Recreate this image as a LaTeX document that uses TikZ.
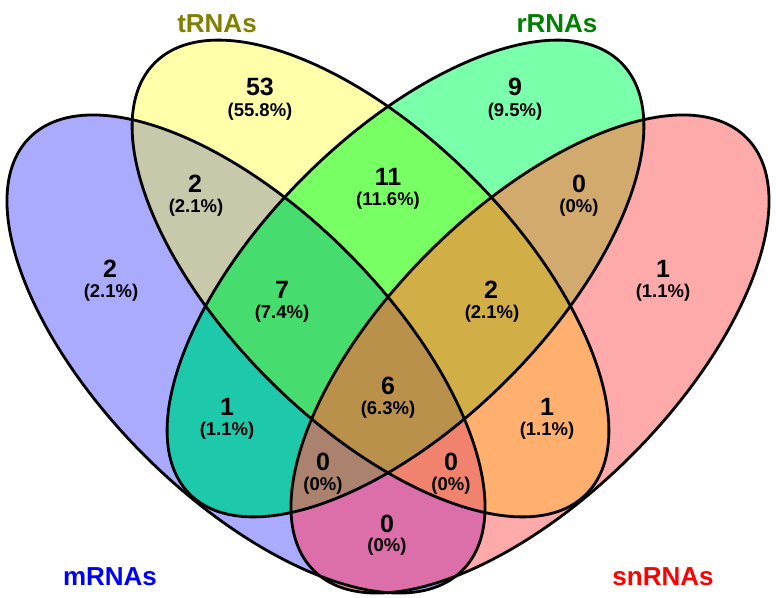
\documentclass[tikz,border=0pt]{standalone}
\usepackage{fontspec}
\setmainfont{Liberation Sans}
\definecolor{cM}{RGB}{170,170,255}
\definecolor{cT}{RGB}{255,255,170}
\definecolor{cR}{RGB}{122,255,170}
\definecolor{cS}{RGB}{255,170,170}
\definecolor{cMT}{RGB}{200,200,170}
\definecolor{cTR}{RGB}{120,255,100}
\definecolor{cRS}{RGB}{210,170,110}
\definecolor{cMR}{RGB}{30,200,170}
\definecolor{cTS}{RGB}{255,175,110}
\definecolor{cMS}{RGB}{220,110,170}
\definecolor{cMTR}{RGB}{70,220,110}
\definecolor{cTRS}{RGB}{210,175,70}
\definecolor{cMRS}{RGB}{170,130,110}
\definecolor{cMTS}{RGB}{240,130,110}
\definecolor{cMTRS}{RGB}{185,145,75}
\definecolor{lblT}{RGB}{128,128,0}
\definecolor{lblR}{RGB}{0,128,0}
\definecolor{lblM}{RGB}{0,0,255}
\definecolor{lblS}{RGB}{255,0,0}
\def\pM{(246,354) ellipse [x radius=306pt, y radius=143.5pt]}
\def\pT{(370.5,278.5) ellipse [x radius=305pt, y radius=143.5pt]}
\def\pR{(405.5,278.5) ellipse [x radius=305pt, y radius=143.5pt]}
\def\pS{(530,354) ellipse [x radius=306pt, y radius=143.5pt]}
\tikzset{
  rM/.style={rotate around={-45:(246,354)}},
  rT/.style={rotate around={-45:(370.5,278.5)}},
  rR/.style={rotate around={45:(405.5,278.5)}},
  rS/.style={rotate around={45:(530,354)}},
  outline/.style={draw=black, line width=2.8pt},
  cnt/.style={anchor=base, inner sep=0pt, font=\fontsize{25}{25}\selectfont\bfseries},
  pct/.style={anchor=base, inner sep=0pt, font=\fontsize{18.5}{18.5}\selectfont\bfseries},
  setlabel/.style={anchor=base, inner sep=0pt, font=\fontsize{26}{26}\selectfont\bfseries},
}
\begin{document}
\begin{tikzpicture}[x=1pt,y=-1pt]
\useasboundingbox (0,0) rectangle (776,597);
% single sets
\fill[cM,rM] \pM;
\fill[cT,rT] \pT;
\fill[cR,rR] \pR;
\fill[cS,rS] \pS;
% pairs
\begin{scope}\clip[rM] \pM; \fill[cMT,rT] \pT; \end{scope}
\begin{scope}\clip[rM] \pM; \fill[cMR,rR] \pR; \end{scope}
\begin{scope}\clip[rM] \pM; \fill[cMS,rS] \pS; \end{scope}
\begin{scope}\clip[rT] \pT; \fill[cTR,rR] \pR; \end{scope}
\begin{scope}\clip[rT] \pT; \fill[cTS,rS] \pS; \end{scope}
\begin{scope}\clip[rR] \pR; \fill[cRS,rS] \pS; \end{scope}
% triples
\begin{scope}\clip[rM] \pM; \clip[rT] \pT; \fill[cMTR,rR] \pR; \end{scope}
\begin{scope}\clip[rM] \pM; \clip[rT] \pT; \fill[cMTS,rS] \pS; \end{scope}
\begin{scope}\clip[rM] \pM; \clip[rR] \pR; \fill[cMRS,rS] \pS; \end{scope}
\begin{scope}\clip[rT] \pT; \clip[rR] \pR; \fill[cTRS,rS] \pS; \end{scope}
% all four
\begin{scope}\clip[rM] \pM; \clip[rT] \pT; \clip[rR] \pR; \fill[cMTRS,rS] \pS; \end{scope}
% outlines
\draw[outline,rM] \pM;
\draw[outline,rT] \pT;
\draw[outline,rR] \pR;
\draw[outline,rS] \pS;
% counts and percentages
\node[cnt] (t1) at (260,95) {53};    \node[pct] (p1) at (260,116) {(55.8\%)};
\node[cnt] (t2) at (515,95) {9};     \node[pct] (p2) at (515,116) {(9.5\%)};
\node[cnt] (t3) at (195,192) {2};    \node[pct] (p3) at (196,212) {(2.1\%)};
\node[cnt] (t4) at (388,185) {11};   \node[pct] (p4) at (388,205) {(11.6\%)};
\node[cnt] (t5) at (579,192) {0};    \node[pct] (p5) at (579,212) {(0\%)};
\node[cnt] (t6) at (110,277) {2};    \node[pct] (p6) at (111,297) {(2.1\%)};
\node[cnt] (t7) at (663,277) {1};    \node[pct] (p7) at (663,297) {(1.1\%)};
\node[cnt] (t8) at (282,298) {7};    \node[pct] (p8) at (282,318) {(7.4\%)};
\node[cnt] (t9) at (491,298) {2};    \node[pct] (p9) at (492,318) {(2.1\%)};
\node[cnt] (t10) at (388,394) {6};   \node[pct] (p10) at (388,414) {(6.3\%)};
\node[cnt] (t11) at (227,415) {1};   \node[pct] (p11) at (227,435) {(1.1\%)};
\node[cnt] (t12) at (547,415) {1};   \node[pct] (p12) at (547,435) {(1.1\%)};
\node[cnt] (t13) at (323,470) {0};   \node[pct] (p13) at (323,490) {(0\%)};
\node[cnt] (t14) at (451,470) {0};   \node[pct] (p14) at (451,490) {(0\%)};
\node[cnt] (t15) at (387,532) {0};   \node[pct] (p15) at (387,551) {(0\%)};
% set labels
\node[setlabel, text=lblT] (lT) at (217,32) {tRNAs};
\node[setlabel, text=lblR] (lR) at (557,32) {rRNAs};
\node[setlabel, text=lblM] (lM) at (110,585) {mRNAs};
\node[setlabel, text=lblS] (lS) at (663,585) {snRNAs};
\end{tikzpicture}
\end{document}
